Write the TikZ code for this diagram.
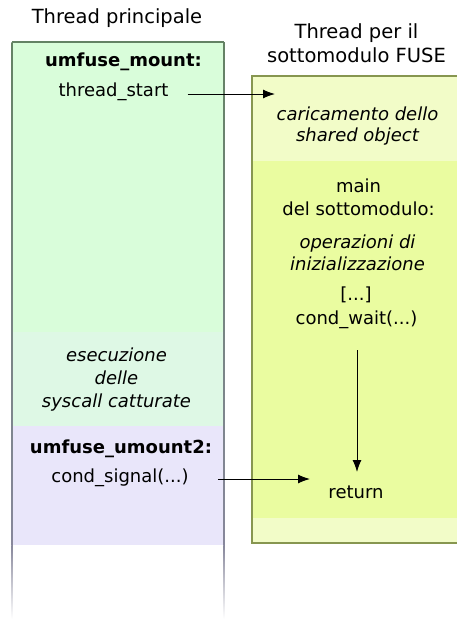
\documentclass[tikz,border=0pt]{standalone}
\usepackage{fontspec}
\setmainfont{DejaVu Sans}
\usetikzlibrary{arrows.meta}
\definecolor{gA}{RGB}{217,253,218}
\definecolor{gB}{RGB}{222,248,229}
\definecolor{pA}{RGB}{233,230,250}
\definecolor{yA}{RGB}{242,252,200}
\definecolor{yB}{RGB}{234,252,160}
\definecolor{gLine}{RGB}{100,130,100}
\definecolor{pLine}{RGB}{135,135,155}
\definecolor{yLine}{RGB}{135,150,80}
\tikzset{
  body/.style={inner sep=0pt, align=center, font=\fontsize{18}{22}\selectfont},
  titletext/.style={inner sep=0pt, align=center, font=\fontsize{19.5}{24}\selectfont},
  flow/.style={-{Latex[length=12pt,width=9pt]}, line width=1pt, black},
}
\begin{document}
\begin{tikzpicture}[x=1pt,y=-1pt]
\useasboundingbox (0,0) rectangle (456,619);
% left column
\fill[gA] (12,42) rectangle (224,332);
\fill[gB] (12,332) rectangle (224,426);
\fill[pA] (12,426) rectangle (224,545);
\draw[gLine, line width=1.5pt] (12,42) -- (224,42);
\shade[top color=gLine, bottom color=pLine] (11.25,42) rectangle (12.75,545);
\shade[top color=gLine, bottom color=pLine] (223.25,42) rectangle (224.75,545);
\shade[top color=pLine, bottom color=white] (11.25,545) rectangle (12.75,619);
\shade[top color=pLine, bottom color=white] (223.25,545) rectangle (224.75,619);
% right column
\fill[yA] (252,76) rectangle (460,161);
\fill[yB] (252,161) rectangle (460,518);
\fill[yA] (252,518) rectangle (460,543);
\draw[yLine, line width=1.5pt] (460,76) -- (252,76) -- (252,543) -- (460,543);
% titles
\node[titletext] (t1) at (117,18) {Thread principale};
\node[titletext] (t2) at (356.5,43) {Thread per il\\sottomodulo FUSE};
% left texts
\node[body, font=\fontsize{18}{22}\selectfont\bfseries] (mount) at (123.5,62) {umfuse\_mount:};
\node[body] (tstart) at (113.5,92) {thread\_start};
\node[body, font=\fontsize{18}{23}\selectfont\itshape] (esec) at (116.5,380) {esecuzione\\delle\\syscall catturate};
\node[body, font=\fontsize{18}{22}\selectfont\bfseries] (umount) at (121,449) {umfuse\_umount2:};
\node[body] (signal) at (120,478) {cond\_signal(...)};
% right texts
\node[body, font=\fontsize{18}{21}\selectfont\itshape] (car) at (357.5,126.5) {caricamento dello\\shared object};
\node[body, font=\fontsize{18}{23}\selectfont] (main) at (358.5,197.5) {main\\del sottomodulo:};
\node[body, font=\fontsize{18}{22}\selectfont\itshape] (oper) at (357.5,253) {operazioni di\\inizializzazione};
\node[body] (dots) at (356,295) {[...]};
\node[body] (wait) at (356.5,320) {cond\_wait(...)};
\node[body] (ret) at (356,492) {return};
% connectors
\coordinate (a1) at (275,94);
\coordinate (a2) at (310,479);
\coordinate (v1) at (357,350);
\coordinate (v2) at (357,472);
\draw[flow] (tstart.east |- a1) ++(19,0) -- (a1);
\draw[flow] (signal.east |- a2) ++(29,0) -- (a2);
\draw[flow] (v1) -- (v2);
\end{tikzpicture}
\end{document}
